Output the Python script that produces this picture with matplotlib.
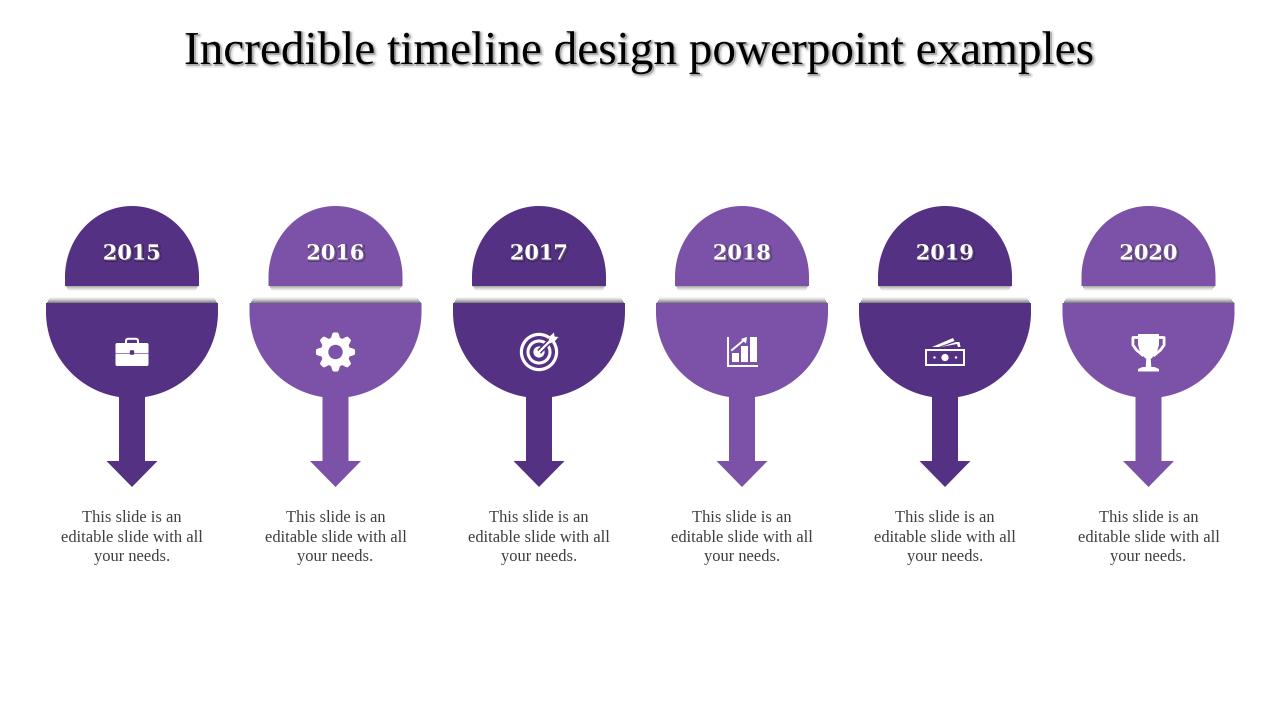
import numpy as np
import matplotlib
matplotlib.use("Agg")
import matplotlib.pyplot as plt
from matplotlib.patches import Circle, Rectangle, FancyBboxPatch, Polygon
import matplotlib.patheffects as pe

TITLE = "Incredible timeline design powerpoint examples"
YEARS = ["2015", "2016", "2017", "2018", "2019", "2020"]
CENTERS = [132, 335.5, 539, 742, 945, 1148.5]
COLORS = ["#543183", "#7C52A8", "#543183", "#7C52A8", "#543183", "#7C52A8"]
BODY = "This slide is an\neditable slide with all\nyour needs."
WHITE = "white"

fig = plt.figure(figsize=(12.8, 7.2), dpi=100, facecolor="white")
ax = fig.add_axes([0, 0, 1, 1])
ax.set_xlim(0, 1280)
ax.set_ylim(720, 0)
ax.axis("off")


def arc(cx, cy, rx, ry, a0, a1, n=90):
    t = np.radians(np.linspace(a0, a1, n))
    return np.column_stack([cx + rx * np.cos(t), cy + ry * np.sin(t)])


def poly(pts, color, z=3):
    ax.add_patch(Polygon(pts, closed=True, facecolor=color, edgecolor="none", zorder=z))


def soft_bar(x0, x1, y_edge, direction, depth, peak, z):
    # blurred shadow built from one translucent strip per pixel row
    for i in range(depth):
        y = y_edge + i if direction > 0 else y_edge - i - 1
        a = peak * (1 - i / depth) ** 1.4
        r = Rectangle((x0 + i * 0.6, y), x1 - x0 - i * 1.2, 1, facecolor="black",
                      edgecolor="none", alpha=a, zorder=z)
        r.set_snap(True)
        ax.add_patch(r)


def briefcase(c, y, col):
    ax.add_patch(FancyBboxPatch((c - 16.5, y - 9), 33, 23, boxstyle="round,pad=0,rounding_size=1.5",
                                facecolor=WHITE, edgecolor="none", zorder=5))
    ax.add_patch(FancyBboxPatch((c - 6, y - 13.2), 12, 6, boxstyle="round,pad=0,rounding_size=2",
                                facecolor="none", edgecolor=WHITE, linewidth=1.5, zorder=5))
    ax.add_patch(Rectangle((c - 17, y + 1), 34, 0.8, facecolor=col, edgecolor="none", alpha=0.6, zorder=6))
    ax.add_patch(FancyBboxPatch((c - 2.2, y - 1.8), 4.4, 4.6, boxstyle="round,pad=0,rounding_size=1.2",
                                facecolor=col, edgecolor="none", zorder=7))


def gear(c, y, col):
    ang = np.linspace(0, 2 * np.pi, 721)
    r = 16.6 + 2.4 * np.clip(1.6 * np.cos(8 * ang), -1, 1)
    ax.add_patch(Polygon(np.column_stack([c + r * np.cos(ang), y + r * np.sin(ang)]),
                         facecolor=WHITE, edgecolor=WHITE, linewidth=0.8, joinstyle="round", zorder=5))
    ax.add_patch(Circle((c, y), 7.2, facecolor=col, edgecolor="none", zorder=6))


def target(c, y, col):
    ax.add_patch(Circle((c, y), 17.6, facecolor="none", edgecolor=WHITE, linewidth=2.3, zorder=5))
    ax.add_patch(Circle((c, y), 11, facecolor="none", edgecolor=WHITE, linewidth=2.2, zorder=5))
    ax.add_patch(Circle((c, y), 5.6, facecolor=WHITE, edgecolor="none", zorder=5))
    ax.plot([c + 2, c + 15], [y - 2, y - 15], color=col, lw=3.8, zorder=5.5)
    ax.plot([c, c + 14], [y, y - 14], color=WHITE, lw=1.6, zorder=5.7)
    poly([(c + 9.5, y - 9.5), (c + 10.5, y - 15.5), (c + 15, y - 19.5), (c + 15.5, y - 15.5),
          (c + 19.5, y - 15), (c + 15.5, y - 10.5), (c + 10.5, y - 8.5)], WHITE, 5.8)


def chart(c, y):
    ax.add_patch(Rectangle((c - 15, y - 15), 2, 30, facecolor=WHITE, edgecolor="none", zorder=5))
    ax.add_patch(Rectangle((c - 15, y + 12.6), 30.5, 2.4, facecolor=WHITE, edgecolor="none", zorder=5))
    for dx, top in ((-10, 1), (-1, -6.5), (8, -15)):
        ax.add_patch(Rectangle((c + dx, y + top), 7.4, 10.4 - top, facecolor=WHITE, edgecolor="none", zorder=5))
    ax.plot([c - 10, c + 2], [y - 2, y - 12], color=WHITE, lw=1.4, zorder=5)
    poly([(c + 5, y - 15), (c + 4, y - 8.5), (c - 1, y - 13)], WHITE, 5)


def money(c, y, col):
    ax.add_patch(Rectangle((c - 20, y - 3), 40, 17, facecolor=WHITE, edgecolor="none", zorder=5))
    ax.add_patch(Rectangle((c - 17.6, y - 0.6), 35.2, 12.2, facecolor=col, edgecolor="none", zorder=5.1))
    ax.add_patch(Circle((c, y + 5.5), 3.6, facecolor=WHITE, edgecolor="none", zorder=5.2))
    ax.add_patch(Circle((c - 10.5, y + 5.5), 1.2, facecolor=WHITE, edgecolor="none", zorder=5.2))
    ax.add_patch(Circle((c + 11, y + 5.5), 1.2, facecolor=WHITE, edgecolor="none", zorder=5.2))
    poly([(c - 13, y - 5), (c + 8, y - 14), (c + 9.5, y - 11), (c - 6, y - 5)], WHITE, 5)
    poly([(c - 4, y - 5), (c + 11, y - 10), (c + 14.5, y - 10), (c + 15.5, y - 5), (c + 13, y - 5),
          (c + 12, y - 8)], WHITE, 5)


def trophy(c, y):
    cup = [(c - 10.5, y - 18), (c + 10.5, y - 18), (c + 10.5, y - 7), (c + 8, y + 1), (c + 3, y + 6.5),
           (c - 3, y + 6.5), (c - 8, y + 1), (c - 10.5, y - 7)]
    poly(cup, WHITE, 5)
    hx = [c + 10, c + 15.6, c + 15.6, c + 12, c + 6]
    hy = [y - 14.5, y - 14.5, y - 7, y - 2, y + 3]
    ax.plot(hx, hy, color=WHITE, lw=2.0, zorder=5, solid_joinstyle="round")
    ax.plot([2 * c - v for v in hx], hy, color=WHITE, lw=2.0, zorder=5, solid_joinstyle="round")
    poly([(c - 2.2, y + 6), (c + 2.2, y + 6), (c + 2.8, y + 15), (c - 2.8, y + 15)], WHITE, 5)
    poly([(c - 6, y + 15), (c + 6, y + 15), (c + 10.5, y + 17), (c + 10.5, y + 19.5), (c - 10.5, y + 19.5),
          (c - 10.5, y + 17)], WHITE, 5)


for c, year, col in zip(CENTERS, YEARS, COLORS):
    # upper dome
    soft_bar(c - 66, c + 66, 286, 1, 5, 0.32, 1)
    dome = np.vstack([[(c - 67, 286)], arc(c, 277, 67, 71, 180, 360), [(c + 67, 286)]])
    poly(dome, col, 3)

    # lower bowl with arrow
    soft_bar(c - 85, c + 85, 303, -1, 6, 0.48, 1)
    bowl = np.vstack([[(c - 86, 303)], [(c + 86, 303)], arc(c, 312, 86, 86, 0, 180)])
    poly(bowl, col, 3)
    stem = [(c - 13, 390), (c + 13, 390), (c + 13, 461), (c + 25.5, 461), (c, 487),
            (c - 25.5, 461), (c - 13, 461)]
    poly(stem, col, 3)

    ax.text(c, 253.5, year, color="white", fontsize=15, fontweight="bold", family="DejaVu Serif",
            ha="center", va="center", zorder=6,
            path_effects=[pe.Stroke(offset=(1, -1), linewidth=1.5, foreground="black", alpha=0.3),
                          pe.Normal()])

    ax.text(c, 537.5, BODY, color="#404040", fontsize=11.9, family="Liberation Serif",
            ha="center", va="center", linespacing=1.3, zorder=6)

briefcase(CENTERS[0], 352, COLORS[0])
gear(CENTERS[1], 352, COLORS[1])
target(CENTERS[2], 352, COLORS[2])
chart(CENTERS[3], 352)
money(CENTERS[4], 352, COLORS[4])
trophy(CENTERS[5], 352)

ax.text(640, 52.5, TITLE, color="black", fontsize=34, family="Liberation Serif", ha="center", va="center",
        zorder=6, path_effects=[pe.Stroke(offset=(1.2, -1.2), linewidth=3, foreground="black", alpha=0.09),
                                pe.Stroke(offset=(1, -1), linewidth=1, foreground="black", alpha=0.12),
                                pe.Normal()])

fig.savefig("out.png", dpi=100, facecolor="white")
